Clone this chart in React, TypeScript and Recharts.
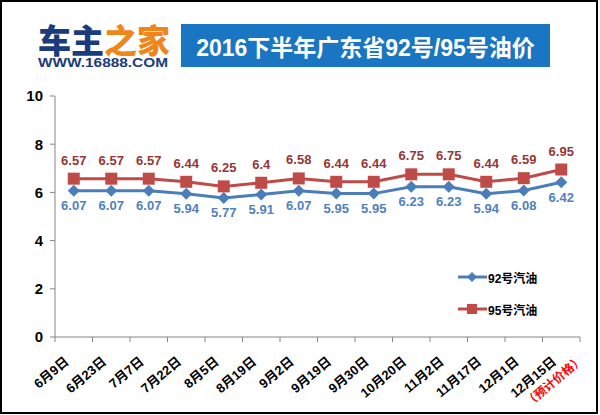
import { LineChart, Line, XAxis, YAxis, LabelList } from "recharts";

const dates = ["6月9日", "6月23日", "7月7日", "7月22日", "8月5日", "8月19日", "9月2日", "9月19日", "9月30日", "10月20日", "11月2日", "11月17日", "12月1日", "12月15日"];
const price92 = [6.07, 6.07, 6.07, 5.94, 5.77, 5.91, 6.07, 5.95, 5.95, 6.23, 6.23, 5.94, 6.08, 6.42];
const price95 = [6.57, 6.57, 6.57, 6.44, 6.25, 6.4, 6.58, 6.44, 6.44, 6.75, 6.75, 6.44, 6.59, 6.95];
const yTicks = [0, 2, 4, 6, 8, 10];
const forecastNote = "（预计价格）";

const W = 600;
const H = 415;
const M = { top: 96, right: 20, bottom: 0, left: 0 };
const Y_W = 55;
const X_H = 78;
const HALF_BAND = (W - M.left - M.right - Y_W) / dates.length / 2;

const BLUE = "#4A7EBB";
const RED = "#BE4B48";
const AXIS = "#868686";
const FONT = "Arial, 'Liberation Sans', 'Noto Sans CJK SC', sans-serif";

const data = dates.map((d, i) => ({ day: d, p92: price92[i], p95: price95[i] }));

function Diamond({ cx, cy }: any) {
  if (cx == null || cy == null) return null;
  const r = 6;
  return <polygon points={`${cx},${cy - r} ${cx + r},${cy} ${cx},${cy + r} ${cx - r},${cy}`} fill={BLUE} />;
}

function Square({ cx, cy }: any) {
  if (cx == null || cy == null) return null;
  return <rect x={cx - 6} y={cy - 6} width={12} height={12} fill={RED} />;
}

// category ticks sit between the points, like the spreadsheet original
function DateTick({ x, y, payload, index }: any) {
  const axisY = y - 8;
  const last = index === dates.length - 1;
  return (
    <g>
      <line x1={x - HALF_BAND} x2={x - HALF_BAND} y1={axisY} y2={axisY + 5} stroke={AXIS} />
      {last && <line x1={x + HALF_BAND} x2={x + HALF_BAND} y1={axisY} y2={axisY + 5} stroke={AXIS} />}
      <g transform={`translate(${x - 4},${axisY + 26}) rotate(-40)`}>
        <text x={0} y={0} textAnchor="end" fontSize={13} fontWeight="bold" fill="#000" fontFamily={FONT}>
          {payload.value}
        </text>
        {last && (
          <text x={22} y={16} textAnchor="end" fontSize={12} fontWeight="bold" fill="#FF0000" fontFamily={FONT}>
            {forecastNote}
          </text>
        )}
      </g>
    </g>
  );
}

function LegendBox() {
  const row = (name: string, color: string, square: boolean) => (
    <div style={{ display: "flex", alignItems: "center", height: 32 }}>
      <svg width={30} height={14}>
        <line x1={0} x2={29} y1={7} y2={7} stroke={color} strokeWidth={3} />
        {square ? <rect x={9} y={2} width={10} height={10} fill={color} /> : <polygon points="14,2 19,7 14,12 9,7" fill={color} />}
      </svg>
      <span style={{ fontSize: 12, fontWeight: "bold", color: "#000", fontFamily: FONT }}>{name}</span>
    </div>
  );
  return (
    <div style={{ position: "absolute", left: 458, top: 261 }}>
      {row("92号汽油", BLUE, false)}
      {row("95号汽油", RED, true)}
    </div>
  );
}

export default function App() {
  return (
    <div style={{ position: "absolute", left: 0, top: 0, width: W, height: H, background: "#fff", overflow: "hidden" }}>
      <div style={{ position: "absolute", left: 38, top: 22, width: 132, fontFamily: "'Noto Sans CJK SC', sans-serif", fontWeight: 900 }}>
        <div style={{ fontSize: 33, lineHeight: "34px", whiteSpace: "nowrap" }}>
          <span style={{ color: "#1B3C7C" }}>车主</span>
          <span style={{ color: "#F08519" }}>之家</span>
        </div>
        <svg width={132} height={14} style={{ display: "block" }}>
          <text x={0} y={11} textLength={130} lengthAdjust="spacingAndGlyphs" fontSize={12} fontWeight={900} fill="#1B3C7C" fontFamily="Arial, 'Liberation Sans', sans-serif">
            WWW.16888.COM
          </text>
        </svg>
      </div>
      <div
        style={{
          position: "absolute", left: 181, top: 24, width: 369, height: 43, background: "#1A75C2",
          color: "#fff", fontSize: 23, fontWeight: "bold", fontFamily: "'Liberation Sans', 'Noto Sans CJK SC', sans-serif",
          display: "flex", alignItems: "center", justifyContent: "center", whiteSpace: "nowrap",
        }}
      >
        2016下半年广东省92号/95号油价
      </div>

      <div style={{ position: "absolute", left: 0, top: 0 }}>
        <LineChart width={W} height={H} data={data} margin={M}>
          <XAxis
            dataKey="day"
            interval={0}
            height={X_H}
            stroke={AXIS}
            tickLine={false}
            padding={{ left: HALF_BAND, right: HALF_BAND }}
            tick={<DateTick />}
          />
          <YAxis
            width={Y_W}
            domain={[0, 10]}
            ticks={yTicks}
            stroke={AXIS}
            tickSize={5}
            tickMargin={7}
            tick={{ fontSize: 15, fontWeight: "bold", fill: "#000", fontFamily: FONT }}
          />
          <Line dataKey="p92" name="92号汽油" stroke={BLUE} strokeWidth={3} dot={<Diamond />} activeDot={false} isAnimationActive={false}>
            <LabelList dataKey="p92" position="bottom" offset={10} fill="#4F81BD" fontSize={13} fontWeight="bold" fontFamily={FONT} />
          </Line>
          <Line dataKey="p95" name="95号汽油" stroke={RED} strokeWidth={3} dot={<Square />} activeDot={false} isAnimationActive={false}>
            <LabelList dataKey="p95" position="top" offset={14} fill="#953735" fontSize={13} fontWeight="bold" fontFamily={FONT} />
          </Line>
        </LineChart>
      </div>

      <LegendBox />

      <div style={{ position: "absolute", left: 0, top: 0, width: 598, height: 414, border: "2px solid #000", boxSizing: "border-box", pointerEvents: "none" }} />
    </div>
  );
}
